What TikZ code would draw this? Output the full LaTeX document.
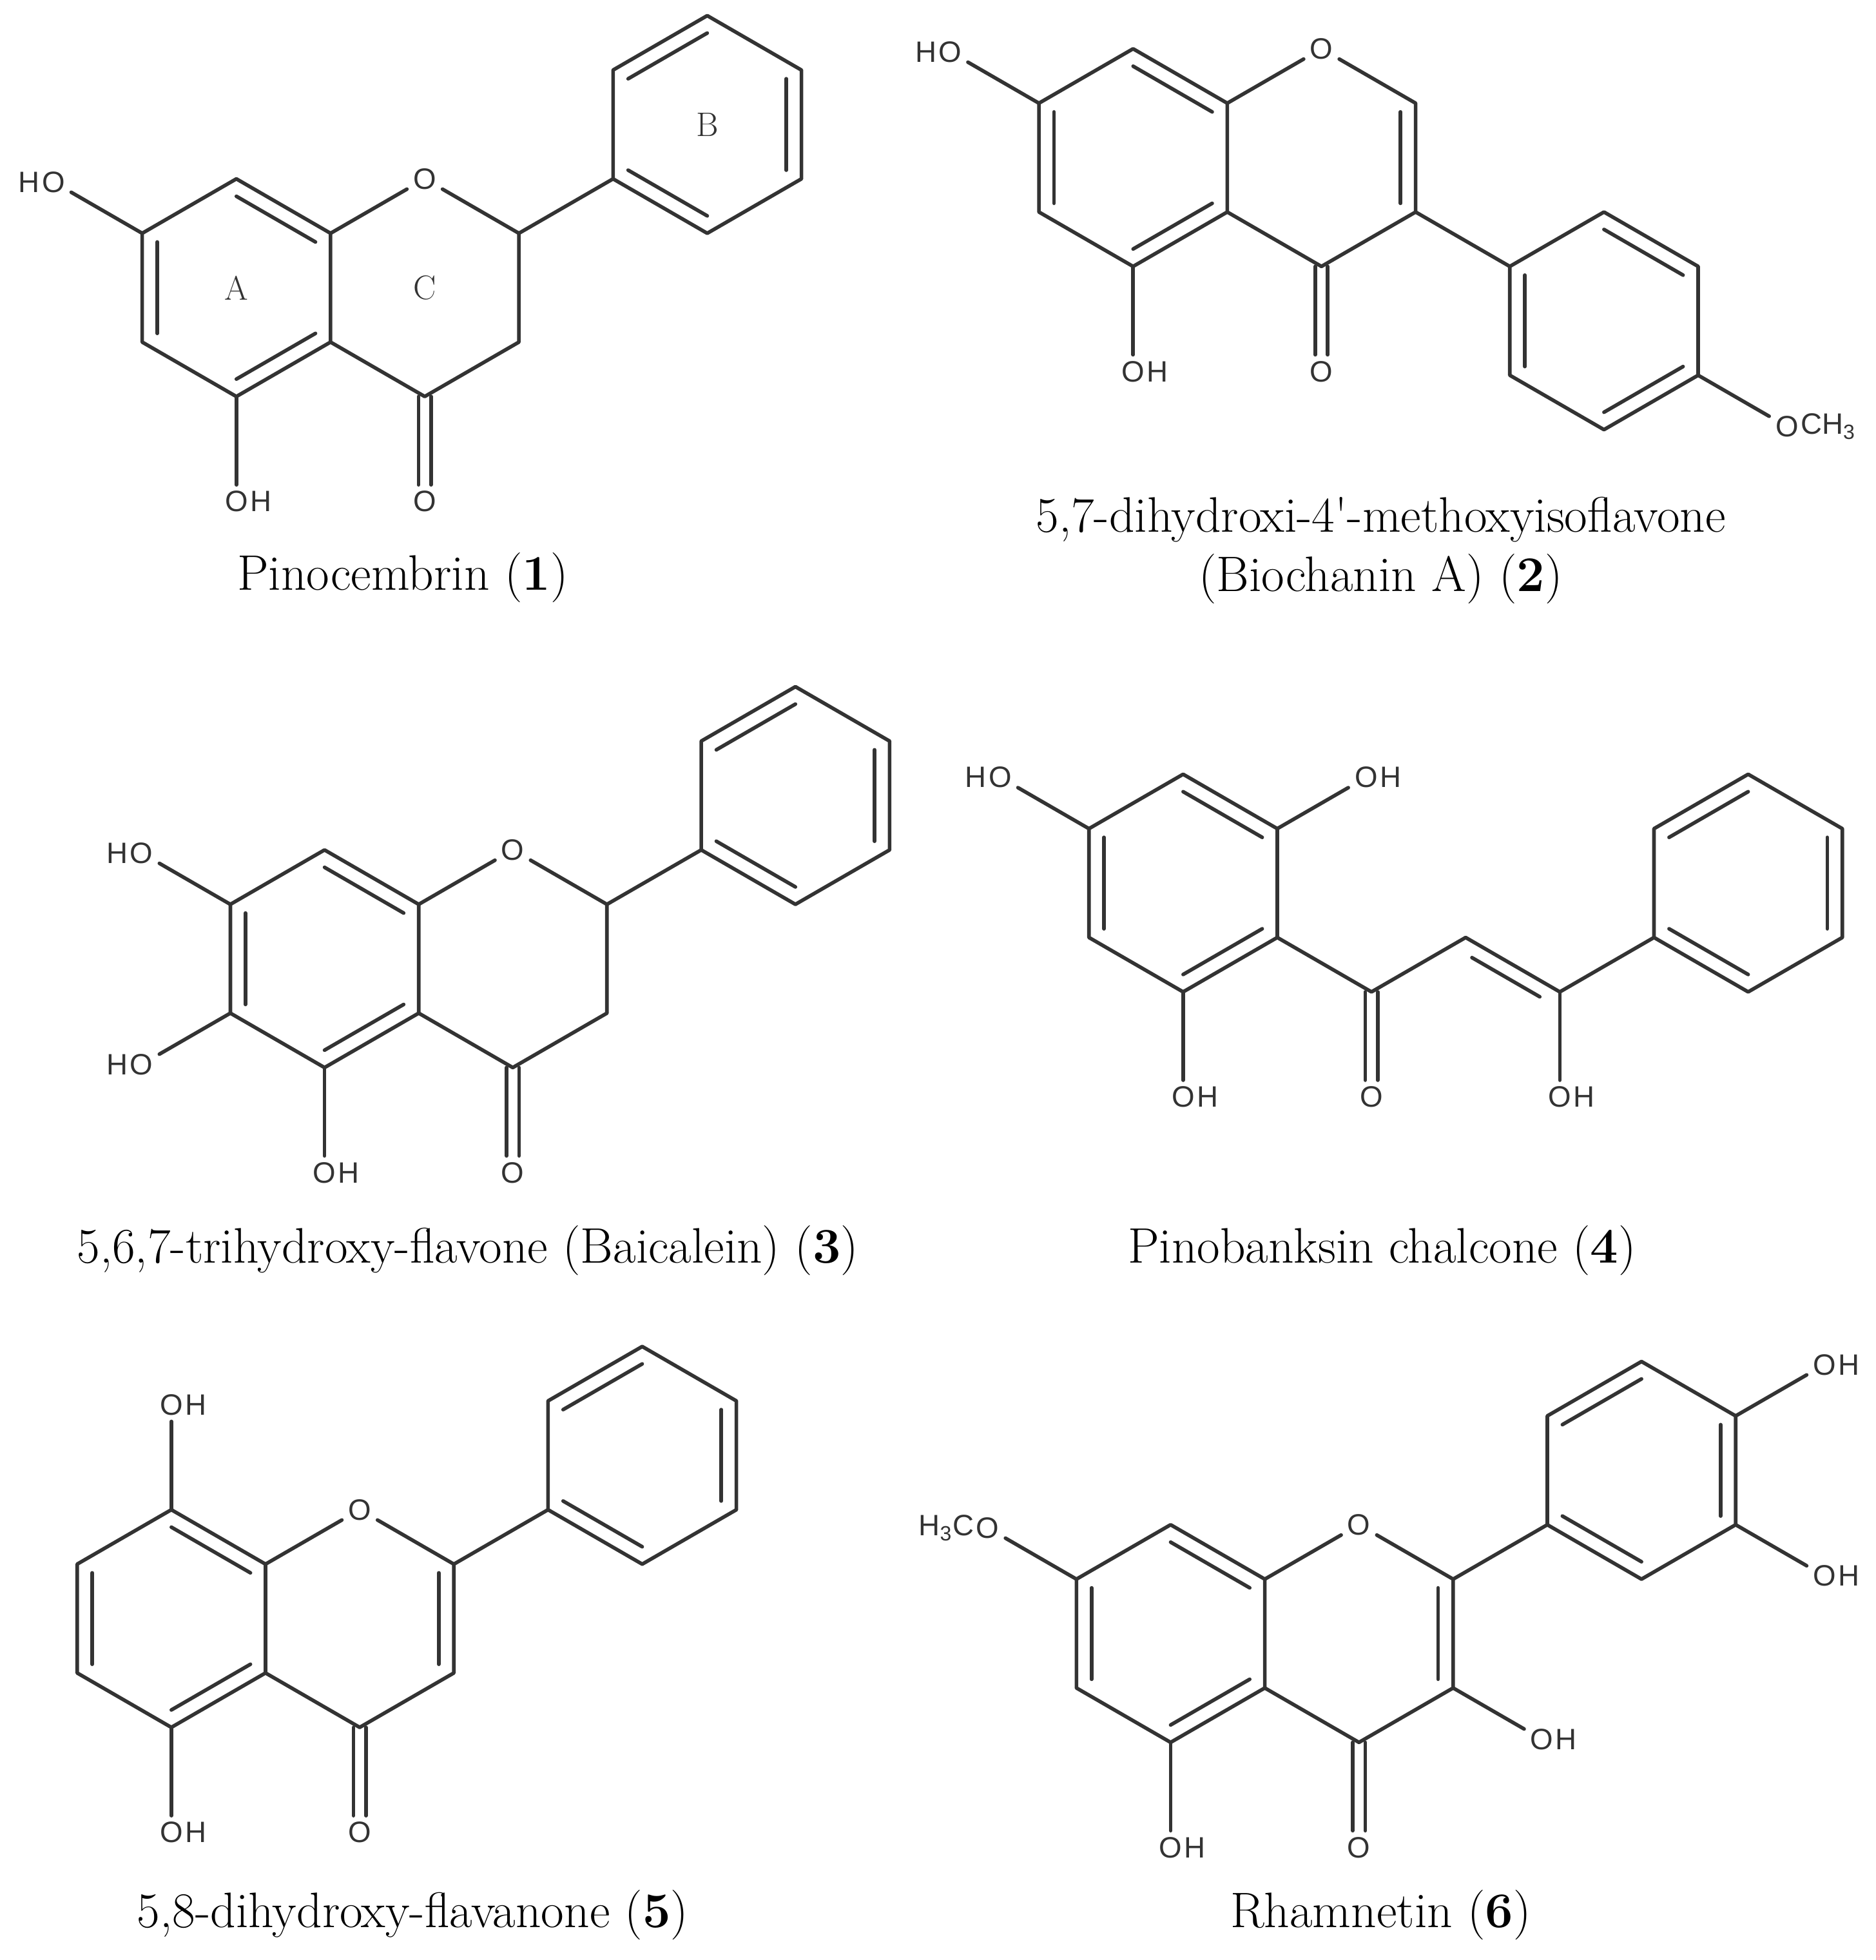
\documentclass[tikz,border=0pt]{standalone}
\usepackage{fontspec}
\newfontfamily\atomfont{Liberation Sans}
\usetikzlibrary{calc}
\definecolor{bond}{HTML}{333333}
\newcommand\hexc[3]{%
\coordinate (#1c) at (#2,#3);
\coordinate (#11) at (#2,#3-87);
\coordinate (#12) at (#2+75.3,#3-43.5);
\coordinate (#13) at (#2+75.3,#3+43.5);
\coordinate (#14) at (#2,#3+87);
\coordinate (#15) at (#2-75.3,#3+43.5);
\coordinate (#16) at (#2-75.3,#3-43.5);}
\newcommand\ringsix[1]{\draw (#11)--(#12)--(#13)--(#14)--(#15)--(#16)--cycle;}
\newcommand\dbl[3]{\draw ($(#1)!0.16!(#3)$) -- ($(#2)!0.16!(#3)$);}
\newcommand\OHr[2]{\node[atom] (#1) at (#2) {O}; \node[atom,anchor=west,inner xsep=0pt] (#1h) at ([xshift=-2.6pt]#1.east) {H};}
\newcommand\HOl[2]{\node[atom] (#1) at (#2) {O}; \node[atom,anchor=east,inner xsep=0pt] (#1h) at ([xshift=2.6pt]#1.west) {H};}
\newcommand\keto[2]{\node[atom] (#1) at ($(#2)+(0,84)$) {O};
\draw ($(#2)+(-5,0)$) -- ($(#1.north)+(-5,0)$); \draw ($(#2)+(5,0)$) -- ($(#1.north)+(5,0)$);}
\begin{document}
\begin{tikzpicture}[x=0.0194cm,y=-0.0194cm,line width=1.6pt,draw=bond,line cap=round,line join=round,
atom/.style={font=\fontsize{13}{13}\selectfont\atomfont,text=bond,inner sep=2pt},
capt/.style={font=\fontsize{22}{26}\selectfont,text=black,align=center},
rl/.style={font=\fontsize{15}{15}\selectfont,text=bond}]
\useasboundingbox (0,0) rectangle (1500,1567);
% ===== 1
\hexc{s1a}{189}{230}\hexc{s1c}{339.6}{230}\hexc{s1b}{565.5}{99.5}
\ringsix{s1a}\dbl{s1a1}{s1a2}{s1ac}\dbl{s1a5}{s1a6}{s1ac}\dbl{s1a3}{s1a4}{s1ac}
\node[atom] (s1O1) at (s1c1) {O};
\draw (s1a2)--(s1O1)--(s1c2)--(s1c3)--(s1c4)--(s1a3);
\ringsix{s1b}\dbl{s1b6}{s1b1}{s1bc}\dbl{s1b2}{s1b3}{s1bc}\dbl{s1b4}{s1b5}{s1bc}
\draw (s1c2)--(s1b5);
\HOl{s1o7}{$(s1a6)+(-71,-41)$}\draw (s1a6)--(s1o7);
\OHr{s1o5}{$(s1a4)+(0,84)$}\draw (s1a4)--(s1o5);
\keto{s1o4}{s1c4}
\node[rl] (s1A) at (s1ac) {A};
\node[rl] (s1C) at (s1cc) {C};
\node[rl] (s1B) at (s1bc) {B};
\node[capt] (s1cap) at (322,462) {Pinocembrin (\textbf{1})};
% ===== 2
\hexc{s2a}{906}{126}\hexc{s2c}{1056.6}{126}\hexc{s2b}{1282.5}{256.5}
\ringsix{s2a}\dbl{s2a1}{s2a2}{s2ac}\dbl{s2a5}{s2a6}{s2ac}\dbl{s2a3}{s2a4}{s2ac}
\node[atom] (s2O1) at (s2c1) {O};
\draw (s2a2)--(s2O1)--(s2c2)--(s2c3)--(s2c4)--(s2a3);
\dbl{s2c2}{s2c3}{s2cc}
\ringsix{s2b}\dbl{s2b1}{s2b2}{s2bc}\dbl{s2b5}{s2b6}{s2bc}\dbl{s2b3}{s2b4}{s2bc}
\draw (s2c3)--(s2b6);
\HOl{s2o7}{$(s2a6)+(-71,-41)$}\draw (s2a6)--(s2o7);
\OHr{s2o5}{$(s2a4)+(0,84)$}\draw (s2a4)--(s2o5);
\keto{s2o4}{s2c4}
\node[atom] (s2om) at ($(s2b3)+(71,41)$) {O};
\node[atom,anchor=west,inner xsep=0pt] (s2omh) at ([xshift=-2.6pt]s2om.east) {CH\textsubscript{3}};
\draw (s2b3)--(s2om);
\node[capt] (s2cap) at (1104,440) {5,7-dihydroxi-4\textquotesingle-methoxyisoflavone\\(Biochanin A) (\textbf{2})};
% ===== 3
\hexc{s3a}{259.5}{766.5}\hexc{s3c}{410}{766.5}\hexc{s3b}{636}{636}
\ringsix{s3a}\dbl{s3a1}{s3a2}{s3ac}\dbl{s3a5}{s3a6}{s3ac}\dbl{s3a3}{s3a4}{s3ac}
\node[atom] (s3O1) at (s3c1) {O};
\draw (s3a2)--(s3O1)--(s3c2)--(s3c3)--(s3c4)--(s3a3);
\ringsix{s3b}\dbl{s3b6}{s3b1}{s3bc}\dbl{s3b2}{s3b3}{s3bc}\dbl{s3b4}{s3b5}{s3bc}
\draw (s3c2)--(s3b5);
\HOl{s3o7}{$(s3a6)+(-71,-41)$}\draw (s3a6)--(s3o7);
\HOl{s3o6}{$(s3a5)+(-71,41)$}\draw (s3a5)--(s3o6);
\OHr{s3o5}{$(s3a4)+(0,84)$}\draw (s3a4)--(s3o5);
\keto{s3o4}{s3c4}
\node[capt] (s3cap) at (374,1000) {5,6,7-trihydroxy-flavone (Baicalein) (\textbf{3})};
% ===== 4
\hexc{s4a}{946}{706}\hexc{s4b}{1397.8}{706}
\ringsix{s4a}\dbl{s4a1}{s4a2}{s4ac}\dbl{s4a5}{s4a6}{s4ac}\dbl{s4a3}{s4a4}{s4ac}
\coordinate (s4k1) at (1096.6,793);
\coordinate (s4k2) at (1171.9,749.5);
\coordinate (s4k3) at (1247.2,793);
\draw (s4a3)--(s4k1)--(s4k2)--(s4k3)--(s4b5);
\draw ($(s4k2)!0.14!(s4k3)+(-5.5,10)$) -- ($(s4k3)!0.14!(s4k2)+(-5.5,10)$);
\ringsix{s4b}\dbl{s4b6}{s4b1}{s4bc}\dbl{s4b2}{s4b3}{s4bc}\dbl{s4b4}{s4b5}{s4bc}
\HOl{s4o4}{$(s4a6)+(-71,-41)$}\draw (s4a6)--(s4o4);
\OHr{s4o2}{$(s4a2)+(71,-41)$}\draw (s4a2)--(s4o2);
\OHr{s4o6}{$(s4a4)+(0,84)$}\draw (s4a4)--(s4o6);
\keto{s4ok}{s4k1}
\OHr{s4ob}{$(s4k3)+(0,84)$}\draw (s4k3)--(s4ob);
\node[capt] (s4cap) at (1105,1000) {Pinobanksin chalcone (\textbf{4})};
% ===== 5
\hexc{s5a}{137}{1294}\hexc{s5c}{287.6}{1294}\hexc{s5b}{513.5}{1163.5}
\ringsix{s5a}\dbl{s5a1}{s5a2}{s5ac}\dbl{s5a5}{s5a6}{s5ac}\dbl{s5a3}{s5a4}{s5ac}
\node[atom] (s5O1) at (s5c1) {O};
\draw (s5a2)--(s5O1)--(s5c2)--(s5c3)--(s5c4)--(s5a3);
\dbl{s5c2}{s5c3}{s5cc}
\ringsix{s5b}\dbl{s5b6}{s5b1}{s5bc}\dbl{s5b2}{s5b3}{s5bc}\dbl{s5b4}{s5b5}{s5bc}
\draw (s5c2)--(s5b5);
\OHr{s5o8}{$(s5a1)+(0,-84)$}\draw (s5a1)--(s5o8);
\OHr{s5o5}{$(s5a4)+(0,84)$}\draw (s5a4)--(s5o5);
\keto{s5o4}{s5c4}
\node[capt] (s5cap) at (330,1531) {5,8-dihydroxy-flavanone (\textbf{5})};
% ===== 6
\hexc{s6a}{936}{1306}\hexc{s6c}{1086.6}{1306}\hexc{s6b}{1312.5}{1175.5}
\ringsix{s6a}\dbl{s6a1}{s6a2}{s6ac}\dbl{s6a5}{s6a6}{s6ac}\dbl{s6a3}{s6a4}{s6ac}
\node[atom] (s6O1) at (s6c1) {O};
\draw (s6a2)--(s6O1)--(s6c2)--(s6c3)--(s6c4)--(s6a3);
\dbl{s6c2}{s6c3}{s6cc}
\ringsix{s6b}\dbl{s6b6}{s6b1}{s6bc}\dbl{s6b2}{s6b3}{s6bc}\dbl{s6b4}{s6b5}{s6bc}
\draw (s6c2)--(s6b5);
\node[atom] (s6o7) at ($(s6a6)+(-71,-41)$) {O};
\node[atom,anchor=east,inner xsep=0pt] (s6o7h) at ([xshift=2.6pt]s6o7.west) {H\textsubscript{3}C};
\draw (s6a6)--(s6o7);
\OHr{s6o5}{$(s6a4)+(0,84)$}\draw (s6a4)--(s6o5);
\keto{s6o4}{s6c4}
\OHr{s6o3}{$(s6c3)+(71,41)$}\draw (s6c3)--(s6o3);
\OHr{s6o4b}{$(s6b2)+(71,-41)$}\draw (s6b2)--(s6o4b);
\OHr{s6o3b}{$(s6b3)+(71,41)$}\draw (s6b3)--(s6o3b);
\node[capt] (s6cap) at (1104,1531) {Rhamnetin (\textbf{6})};
\end{tikzpicture}
\end{document}
